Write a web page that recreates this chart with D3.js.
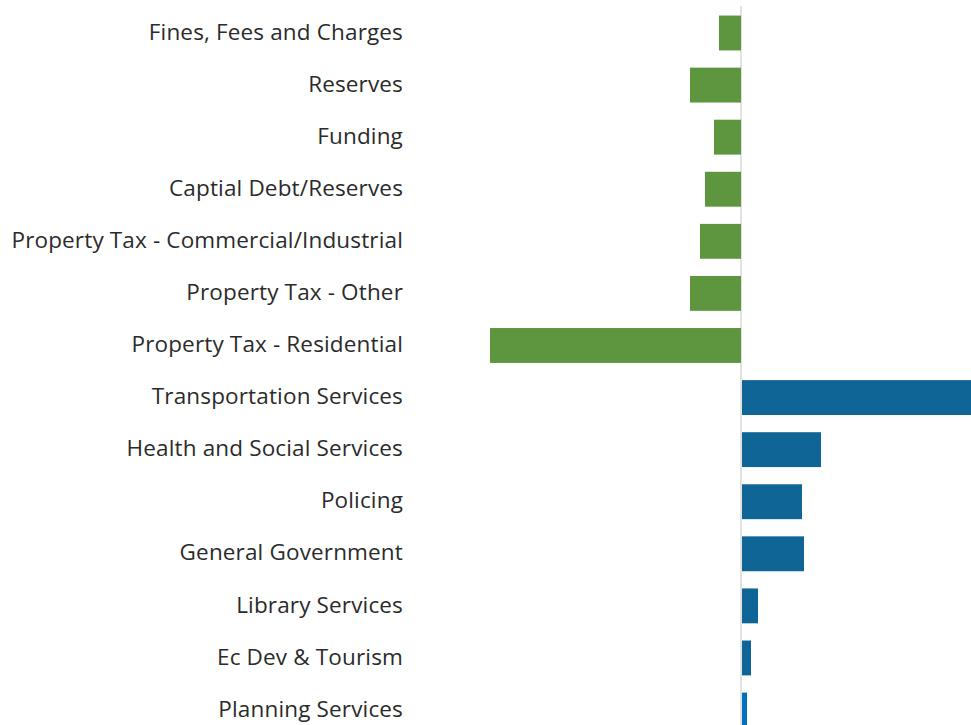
<!DOCTYPE html>
<html>
<head>
<meta charset="utf-8">
<script src="https://cdn.jsdelivr.net/npm/d3@7"></script>
<style>
  html, body { margin: 0; padding: 0; background: #fff; overflow: hidden; }
  text { font-family: "Open Sans", "Noto Sans", sans-serif; }
</style>
</head>
<body>
<div id="chart"></div>
<script>
// categories top to bottom
const categories = [
  "Fines, Fees and Charges",
  "Reserves",
  "Funding",
  "Captial Debt/Reserves",
  "Property Tax - Commercial/Industrial",
  "Property Tax - Other",
  "Property Tax - Residential",
  "Transportation Services",
  "Health and Social Services",
  "Policing",
  "General Government",
  "Library Services",
  "Ec Dev & Tourism",
  "Planning Services"
];
// revenue negative, spending positive (millions, estimated)
const values = [-2.2, -5.1, -2.7, -3.6, -4.1, -5.1, -25.1, 26.0, 7.9, 6.0, 6.2, 1.6, 0.9, 0.5];
const barColors = ["#5e9640", "#5e9640", "#5e9640", "#5e9640", "#5e9640", "#5e9640", "#5e9640",
                   "#0f6696", "#0f6696", "#0f6696", "#0f6696", "#0f6696", "#0f6696", "#0070c0"];

function drawChart() {
  const W = 971, H = 725;
  const svg = d3.select("#chart").append("svg")
    .attr("width", W)
    .attr("height", H);

  // --- SCALES ---
  const x = d3.scaleLinear().domain([-30, 30]).range([441, 1041]);
  const step = 52.08;
  const y = d3.scaleBand()
    .domain(categories)
    .range([33 - step / 2, 33 - step / 2 + step * categories.length])
    .paddingInner(0.33)
    .paddingOuter(0.165);

  // zero line
  svg.append("line")
    .attr("x1", x(0)).attr("x2", x(0))
    .attr("y1", 6).attr("y2", H)
    .attr("stroke", "#d9d9d9")
    .attr("stroke-width", 1.5);

  // bars
  svg.selectAll("rect.bar")
    .data(categories)
    .enter()
    .append("rect")
    .attr("class", "bar")
    .attr("x", (d, i) => values[i] < 0 ? x(values[i]) : x(0) + 1)
    .attr("y", d => y(d))
    .attr("width", (d, i) => Math.abs(x(values[i]) - x(0)))
    .attr("height", y.bandwidth())
    .attr("fill", (d, i) => barColors[i]);

  // category labels (axis-like, right aligned)
  const yAxis = svg.append("g")
    .attr("transform", "translate(403,-1)")
    .call(d3.axisLeft(y).tickSize(0).tickPadding(0));
  yAxis.select(".domain").remove();
  yAxis.selectAll("text")
    .attr("fill", "#2b2b2b")
    .style("font-size", "22.5px")
    .style("letter-spacing", "0.15px")
    .style("font-family", "\"Open Sans\", sans-serif")
    .attr("x", 0)
    .attr("dy", "0.34em");
}

drawChart();
</script>
</body>
</html>
